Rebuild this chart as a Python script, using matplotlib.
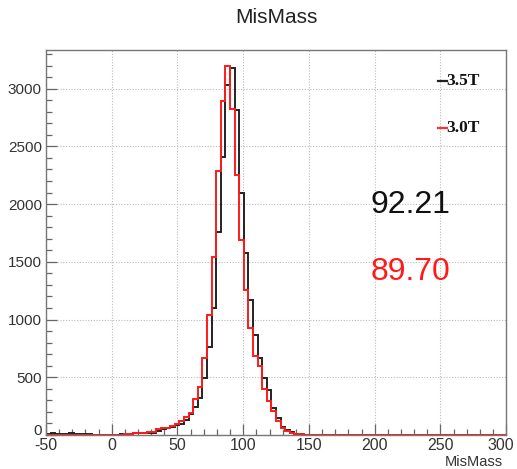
import numpy as np
import matplotlib

matplotlib.use("Agg")
import matplotlib.pyplot as plt
from matplotlib.lines import Line2D
from matplotlib.ticker import FuncFormatter, MultipleLocator

# 100 bins from -50 to 300 (ROOT default binning)
X_MIN, X_MAX, N_BINS = -50.0, 300.0, 100

counts_35T = ([5, 15, 10, 12, 8, 14, 10, 6, 12, 9, 3, 0, 0, 2, 0, 3, 5,
               8, 12, 15, 16, 18, 18, 20, 35, 52, 60, 69, 86, 98, 130,
               181, 239, 317, 495, 761, 1100, 1760, 2407, 3031, 3175,
               2812, 2097, 1579, 1170, 868, 665, 497, 393, 233, 147, 73,
               43, 22, 12, 6, 4, 2] + [0] * 42)
counts_30T = ([2, 4, 3, 2, 3, 4, 2, 3, 2, 3, 2, 1, 2, 1, 2, 3, 4,
               6, 10, 14, 16, 18, 22, 26, 52, 60, 63, 78, 98, 121, 160,
               193, 311, 412, 668, 1037, 1543, 2290, 2891, 3195, 2824,
               2255, 1692, 1256, 930, 683, 600, 398, 298, 207, 125, 62,
               35, 20, 12, 7, 4, 2] + [0] * 42)
labels = ["3.5T", "3.0T"]
means = ["92.21", "89.70"]


def main():
    edges = np.linspace(X_MIN, X_MAX, N_BINS + 1)
    fig = plt.figure(figsize=(5.17, 4.69), dpi=100)
    ax = fig.add_axes([0.089, 0.0725, 0.890, 0.821])

    ax.stairs(counts_35T, edges, color="#222222", lw=1.4, baseline=None)
    ax.stairs(counts_30T, edges, color="#ff1a1a", lw=1.4, baseline=None)

    ax.set_xlim(X_MIN, X_MAX)
    ax.set_ylim(0, 3335)
    ax.xaxis.set_major_locator(MultipleLocator(50))
    ax.xaxis.set_minor_locator(MultipleLocator(10))
    ax.yaxis.set_major_locator(MultipleLocator(500))
    ax.yaxis.set_minor_locator(MultipleLocator(100))
    # corner labels (x=300, y=0) are placed by hand below so they stay
    # inside the canvas and clear of the "-50" label
    ax.xaxis.set_major_formatter(
        FuncFormatter(lambda v, p: "" if v >= X_MAX else f"{v:g}"))
    ax.yaxis.set_major_formatter(
        FuncFormatter(lambda v, p: "" if v <= 0 else f"{v:g}"))
    ax.grid(True, which="major", ls=(0, (1, 1.5)), color="#bbbbbb", lw=0.8)
    ax.set_axisbelow(True)
    ax.tick_params(which="both", direction="in", top=False, right=False,
                   colors="#666666", labelcolor="#333333", labelsize=11,
                   width=0.9)
    ax.tick_params(which="major", length=8)
    ax.tick_params(which="minor", length=4)
    ax.tick_params(axis="x", labelsize=11.5, pad=2)
    ax.tick_params(axis="y", pad=3)
    for side in ax.spines.values():
        side.set_color("#777777")
        side.set_linewidth(1.0)
    for lab in ax.get_xticklabels() + ax.get_yticklabels():
        lab.set_family("Liberation Sans")

    ax.annotate("300", xy=(X_MAX, 0), xytext=(-4, -2),
                textcoords="offset points", ha="center", va="top",
                fontsize=11.5, family="Liberation Sans", color="#333333",
                annotation_clip=False)
    ax.annotate("0", xy=(X_MIN, 0), xytext=(-3, 3),
                textcoords="offset points", ha="right", va="center",
                fontsize=11, family="Liberation Sans", color="#333333",
                annotation_clip=False)

    fig.text(0.534, 0.962, "MisMass", ha="center", va="center",
             fontsize=15, family="Liberation Sans", color="#222222")
    fig.text(0.972, 0.014, "MisMass", ha="right", va="center",
             fontsize=10.5, family="Liberation Sans", color="#333333")

    # legend entries: coloured dash + bold serif label
    leg_y = [0.827, 0.728]
    for lab, col, y in zip(labels, ["#222222", "#ff3030"], leg_y):
        fig.add_artist(Line2D([0.847, 0.864], [y, y], color=col, lw=1.6,
                              transform=fig.transFigure))
        fig.text(0.864, y, lab, ha="left", va="center", fontsize=12.5,
                 family="Liberation Serif", weight="bold", color="#111111")

    for txt, col, y in zip(means, ["#111111", "#ff1a1a"], [0.563, 0.420]):
        fig.text(0.716, y, txt, ha="left", va="center", fontsize=23,
                 family="Liberation Sans", color=col)

    fig.savefig("out.png", dpi=100)


if __name__ == "__main__":
    main()
